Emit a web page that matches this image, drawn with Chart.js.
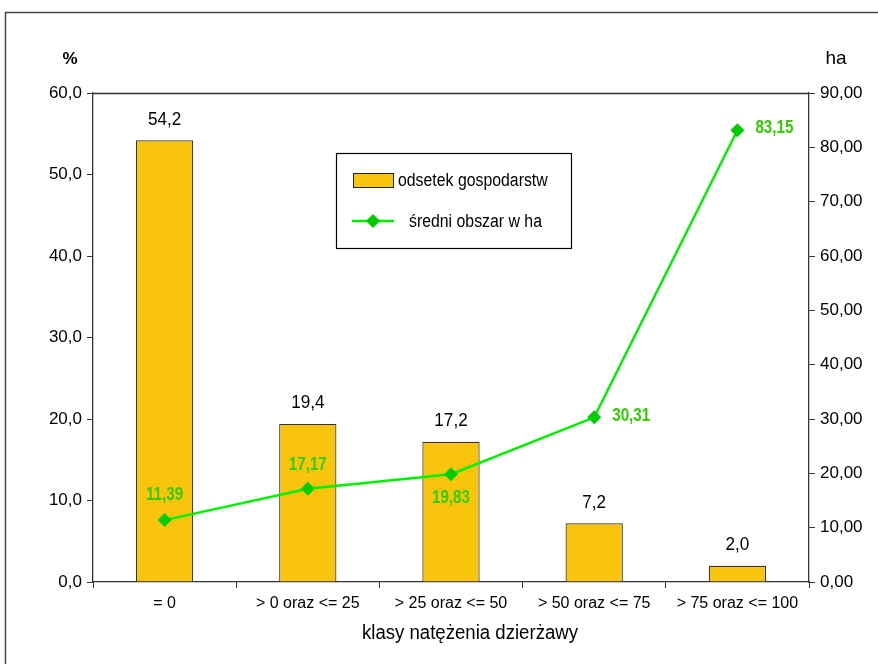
<!DOCTYPE html>
<html>
<head>
<meta charset="utf-8">
<script src="https://cdn.jsdelivr.net/npm/chart.js@4/dist/chart.umd.min.js"></script>
<style>
  html, body { margin: 0; padding: 0; background: #fff; }
  #wrap { width: 878px; height: 664px; position: relative; }
</style>
</head>
<body>
<div id="wrap"><canvas id="c" width="878" height="664"></canvas></div>
<script>
// Klasy natężenia dzierżawy
const categories = ['= 0', '> 0 oraz <= 25', '> 25 oraz <= 50', '> 50 oraz <= 75', '> 75 oraz <= 100'];
// Odsetek gospodarstw [%]
const shareOfFarms = [54.2, 19.4, 17.2, 7.2, 2.0];
// Średni obszar gospodarstwa [ha]
const meanArea = [11.39, 17.17, 19.83, 30.31, 83.15];

const FONT = "'Liberation Sans', Arial, sans-serif";
const BAR_FILL = '#F8C50C';
const LINE_GREEN = '#00F000';
const MARK_GREEN = '#00CC00';
const LABEL_GREEN = '#33CC00';
const AXIS = '#333333';

const fmt = (v, d) => v.toFixed(d).replace('.', ',');

// Label offsets for the area values (relative to the point)
const areaLabelPos = [
  { dx: 0, dy: -25, align: 'center' },
  { dx: 0, dy: -24, align: 'center' },
  { dx: 0, dy: 24, align: 'center' },
  { dx: 18, dy: -2, align: 'left' },
  { dx: 18, dy: -2, align: 'left' }
];

// text drawn with a horizontal squeeze (narrow face look)
function narrowText(ctx, text, x, y, sx) {
  ctx.save();
  ctx.translate(x, y);
  ctx.scale(sx, 1);
  ctx.fillText(text, 0, 0);
  ctx.restore();
}

const decorations = {
  id: 'decorations',
  afterDatasetsDraw(chart) {
    const ctx = chart.ctx;
    const a = chart.chartArea;
    ctx.save();

    // outer frame
    ctx.strokeStyle = '#444';
    ctx.lineWidth = 1.5;
    ctx.strokeRect(5.5, 12.5, 900, 700);

    // plot box top edge
    ctx.strokeStyle = AXIS;
    ctx.lineWidth = 1.3;
    ctx.beginPath();
    ctx.moveTo(a.left, a.top + 0.5);
    ctx.lineTo(a.right, a.top + 0.5);
    ctx.stroke();

    // axis unit titles
    ctx.fillStyle = '#000';
    ctx.textBaseline = 'middle';
    ctx.textAlign = 'center';
    ctx.font = 'bold 17px ' + FONT;
    ctx.fillText('%', 70, 59);
    ctx.font = '19px ' + FONT;
    ctx.fillText('ha', 836, 59);

    // category axis title
    ctx.font = '20px ' + FONT;
    narrowText(ctx, 'klasy natężenia dzierżawy', 470, 633, 0.93);

    // bar value labels
    ctx.font = '19px ' + FONT;
    const barMeta = chart.getDatasetMeta(0);
    barMeta.data.forEach((el, i) => {
      narrowText(ctx, fmt(shareOfFarms[i], 1), el.x, el.y - 21, 0.9);
    });

    // area value labels
    ctx.font = 'bold 19px ' + FONT;
    ctx.fillStyle = LABEL_GREEN;
    const lineMeta = chart.getDatasetMeta(1);
    lineMeta.data.forEach((el, i) => {
      const p = areaLabelPos[i];
      ctx.textAlign = p.align;
      narrowText(ctx, fmt(meanArea[i], 2), el.x + p.dx, el.y + p.dy, 0.8);
    });

    // legend
    const lx = 336, ly = 153, lw = 235, lh = 95;
    ctx.fillStyle = '#fff';
    ctx.fillRect(lx, ly, lw, lh);
    ctx.strokeStyle = '#000';
    ctx.lineWidth = 1.2;
    ctx.strokeRect(lx + 0.5, ly + 0.5, lw, lh);
    ctx.fillStyle = BAR_FILL;
    ctx.fillRect(353, 173, 40, 14);
    ctx.strokeStyle = '#222';
    ctx.lineWidth = 1;
    ctx.strokeRect(353.5, 173.5, 40, 14);
    ctx.fillStyle = '#000';
    ctx.font = '18px ' + FONT;
    ctx.textAlign = 'left';
    ctx.textBaseline = 'middle';
    narrowText(ctx, 'odsetek gospodarstw', 398, 181, 0.88);
    ctx.strokeStyle = LINE_GREEN;
    ctx.lineWidth = 2.5;
    ctx.beginPath();
    ctx.moveTo(352, 221);
    ctx.lineTo(394, 221);
    ctx.stroke();
    ctx.fillStyle = MARK_GREEN;
    ctx.beginPath();
    ctx.moveTo(373, 214); ctx.lineTo(380, 221); ctx.lineTo(373, 228); ctx.lineTo(366, 221);
    ctx.closePath();
    ctx.fill();
    ctx.fillStyle = '#000';
    narrowText(ctx, 'średni obszar w ha', 409, 222, 0.88);

    ctx.restore();
  }
};

new Chart(document.getElementById('c'), {
  data: {
    labels: categories,
    datasets: [
      {
        type: 'bar',
        label: 'odsetek gospodarstw',
        data: shareOfFarms,
        yAxisID: 'y',
        backgroundColor: BAR_FILL,
        borderColor: '#333',
        borderWidth: 1.2,
        categoryPercentage: 1,
        barPercentage: 0.4,
        order: 2
      },
      {
        type: 'line',
        label: 'średni obszar w ha',
        data: meanArea,
        yAxisID: 'y1',
        borderColor: LINE_GREEN,
        borderWidth: 2.5,
        pointStyle: 'rectRot',
        pointRadius: 7,
        pointBackgroundColor: MARK_GREEN,
        pointBorderColor: MARK_GREEN,
        pointBorderWidth: 0,
        tension: 0,
        order: 1
      }
    ]
  },
  options: {
    responsive: false,
    animation: false,
    devicePixelRatio: 1,
    layout: { padding: { top: 93, left: 0, right: 0, bottom: 0 } },
    plugins: {
      legend: { display: false },
      tooltip: { enabled: false }
    },
    scales: {
      x: {
        offset: true,
        grid: { offset: true, drawOnChartArea: false, drawTicks: true, tickLength: 6, color: AXIS, lineWidth: 1 },
        border: { color: AXIS, width: 1.3 },
        ticks: { color: '#000', font: { family: FONT, size: 16 }, padding: 6, maxRotation: 0, autoSkip: false },
        afterFit(s) { s.height = 82; }
      },
      y: {
        position: 'left',
        min: 0, max: 60,
        ticks: { stepSize: 10, color: '#000', font: { family: FONT, size: 17 }, padding: 5, callback: v => fmt(v, 1) },
        grid: { drawOnChartArea: false, tickLength: 6, color: AXIS },
        border: { color: AXIS, width: 1.3 },
        afterFit(s) { s.width = 93; }
      },
      y1: {
        position: 'right',
        min: 0, max: 90,
        ticks: { stepSize: 10, color: '#000', font: { family: FONT, size: 17 }, padding: 5, callback: v => fmt(v, 2) },
        grid: { drawOnChartArea: false, tickLength: 6, color: AXIS },
        border: { color: AXIS, width: 1.3 },
        afterFit(s) { s.width = 69; }
      }
    }
  },
  plugins: [decorations]
});
</script>
</body>
</html>
